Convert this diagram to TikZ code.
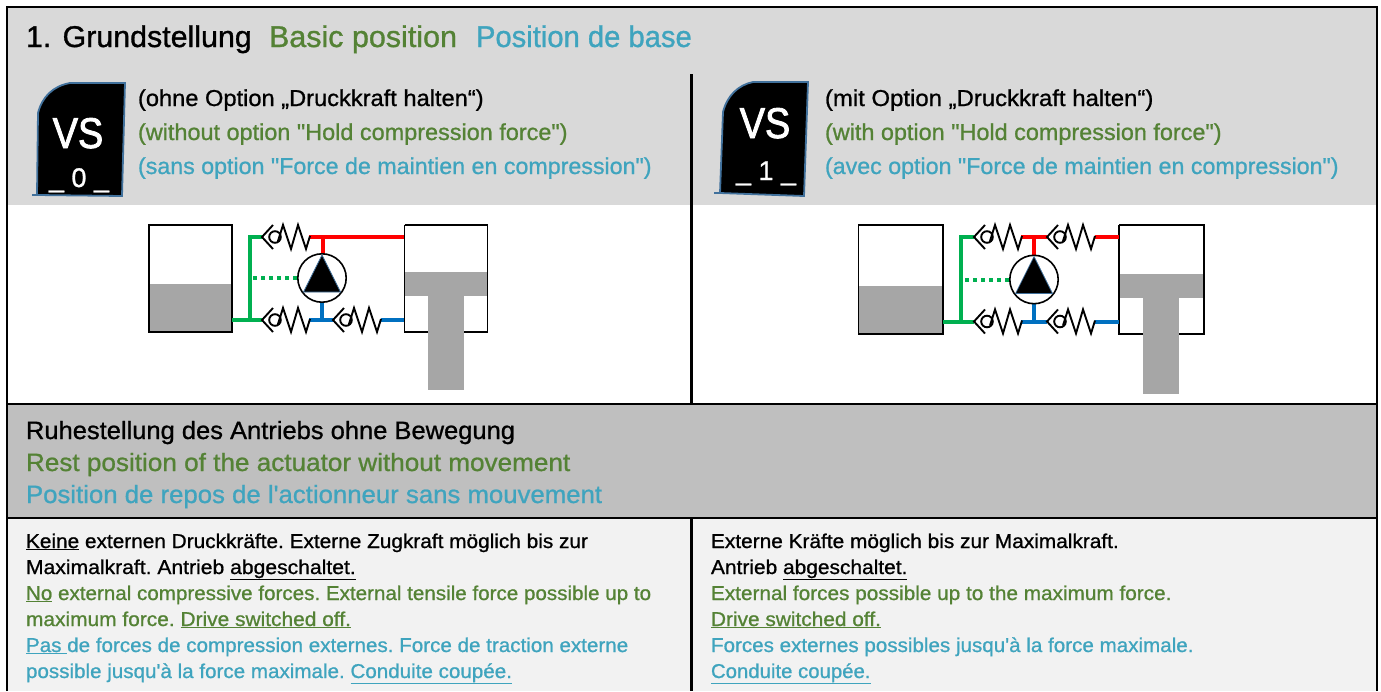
\documentclass[tikz,border=0pt]{standalone}
\usepackage{graphicx}
\usepackage{fontspec}
\setmainfont{Liberation Sans}[FakeBold=0.9,FakeStretch=1.01,Ligatures=TeXOff]
\newfontfamily\bodyfont{Liberation Sans}[FakeBold=0.9,FakeStretch=1.03,Ligatures=TeXOff]
\newfontfamily\midfont{Liberation Sans}[FakeBold=0.9,FakeStretch=1.02,Ligatures=TeXOff]
\newfontfamily\titlefont{Liberation Sans}[FakeBold=1.0,FakeStretch=1.0,Ligatures=TeXOff]
\newfontfamily\badgefont{Liberation Sans}[FakeBold=2,FakeStretch=0.88,Ligatures=TeXOff]
\newfontfamily\numfont{Liberation Sans}[FakeBold=1,Ligatures=TeXOff]
\definecolor{gTxt}{RGB}{84,130,53}
\definecolor{bTxt}{RGB}{63,164,190}
\definecolor{hdGray}{RGB}{217,217,217}
\definecolor{midGray}{RGB}{191,191,191}
\definecolor{lightGray}{RGB}{242,242,242}
\definecolor{fillGray}{RGB}{166,166,166}
\definecolor{pipeG}{RGB}{0,176,80}
\definecolor{pipeB}{RGB}{0,112,192}
\definecolor{edgeB}{RGB}{65,113,156}
\tikzset{
 txt/.style={anchor=base west,inner sep=0,outer sep=0,font=\frenchspacing\fontsize{23}{23}\selectfont},
 body/.style={anchor=base west,inner sep=0,outer sep=0,font=\frenchspacing\bodyfont\fontsize{20}{20}\selectfont},
 title/.style={anchor=base west,inner sep=0,outer sep=0,font=\titlefont\fontsize{30}{30}\selectfont},
 mid/.style={anchor=base west,inner sep=0,outer sep=0,font=\midfont\fontsize{25}{25}\selectfont},
 frameline/.style={draw=black,line width=2.6pt},
 boxln/.style={draw=black,line width=1.9pt},
 pipe/.style={line width=4pt},
 sym/.style={draw=black,line width=1.9pt},
 badge/.style={draw=edgeB,line width=1.8pt,fill=black},
 vstext/.style={anchor=base,inner sep=0,text=white,font=\badgefont\fontsize{43}{43}\selectfont},
 numtext/.style={anchor=base,inner sep=0,text=white,font=\numfont\fontsize{27}{27}\selectfont},
}
\newcommand{\ul}[1]{\underline{#1}}
\newcommand{\sx}[2]{\scalebox{#1}[1]{#2}}
\newcommand{\valve}[2]{%
 \begin{scope}[shift={(#1,#2)}]
  \draw[sym] (11,-12) -- (0,0) -- (11,12);
  \draw[sym] (13,0) circle (5.8);
  \draw[sym] (16,4) -- (21,-12) -- (29,12) -- (36,-12) -- (44,12) -- (48,-1);
 \end{scope}}
\newcommand{\pumpsym}[2]{%
 \begin{scope}[shift={(#1,#2)}]
  \draw[draw=black,line width=1.6pt,fill=white] (0,0) circle (24.2);
  \fill[black] (0,-23) -- (18.5,14) -- (-18.5,14) -- cycle;
  \draw[edgeB,line width=.7pt] (0,-23) -- (18.5,14) -- (-18.5,14) -- cycle;
 \end{scope}}
\begin{document}
\begin{tikzpicture}[x=1pt,y=-1pt]
\useasboundingbox (0,0) rectangle (1381,691);
\fill[white] (0,0) rectangle (1381,691);
\fill[hdGray] (7,7) rectangle (1377,205);
\fill[midGray] (7,404) rectangle (1377,518);
\fill[lightGray] (7,518) rectangle (1377,691);
% frame lines
\draw[frameline] (7,691) -- (7,7) -- (1377,7) -- (1377,691);
\draw[frameline] (7,404) -- (1377,404);
\draw[frameline] (7,518) -- (1377,518);
\draw[frameline] (691.5,74) -- (691.5,404);
\draw[frameline] (691.5,518) -- (691.5,691);
% heading
\node[title] (t1) at (26,47) {\sx{1.013}{1. Grundstellung}};
\node[title,text=gTxt] (t2) at (269,47) {\sx{1.016}{Basic position}};
\node[title,text=bTxt] (t3) at (476,47) {\sx{0.973}{Position de base}};
% badges
\draw[badge] (37,195) -- (38,113) .. controls (42,97) and (53,86) .. (70,83) -- (125,83) -- (122,196) -- cycle;
\draw[edgeB,line width=1.8pt] (32,195) -- (38,195);
\node[vstext] (vs0) at (78,148) {VS};
\node[numtext] (n0) at (79,187) {\_ 0 \_};
\draw[badge] (720,193) -- (723,112) .. controls (727,96) and (738,85) .. (753,82) -- (808,82) -- (804,196) -- cycle;
\draw[edgeB,line width=1.8pt] (714,193) -- (721,193);
\node[vstext] (vs1) at (765,138) {VS};
\node[numtext] (n1) at (766,180) {\_ 1 \_};
% options
\node[txt] (a1) at (138,106) {\sx{1.018}{(ohne Option „Druckkraft halten“)}};
\node[txt,text=gTxt] (a2) at (138,140) {\sx{1.009}{(without option "Hold compression force")}};
\node[txt,text=bTxt] (a3) at (138,174) {(sans option "Force de maintien en compression")};
\node[txt] (b1) at (825,106) {\sx{1.03}{(mit Option „Druckkraft halten“)}};
\node[txt,text=gTxt] (b2) at (825,140) {\sx{1.008}{(with option "Hold compression force")}};
\node[txt,text=bTxt] (b3) at (825,174) {(avec option "Force de maintien en compression")};
% left scheme
\fill[fillGray] (149,284) rectangle (232,331);
\draw[boxln] (149,225) rectangle (232,332);
\fill[fillGray] (405,272) rectangle (487,296);
\fill[fillGray] (428,296) rectangle (464,390);
\draw[boxln] (404.5,225) -- (487.5,225) -- (487.5,332) -- (464,332);
\draw[boxln] (428,332) -- (404.5,332) -- (404.5,225);
\draw[pipeG,pipe] (232,320) -- (263,320);
\draw[pipeG,pipe] (250,320) -- (250,237) -- (263,237);
\draw[pipeG,pipe,dash pattern=on 4pt off 4pt] (253,278) -- (298,278);
\draw[red,pipe] (309,237) -- (404,237);
\draw[red,pipe] (322.5,237) -- (322.5,256);
\draw[pipeB,pipe] (322,302) -- (322,320);
\draw[pipeB,pipe] (309,320) -- (334,320);
\draw[pipeB,pipe] (381,320) -- (404,320);
\valve{262}{237}
\valve{262}{320}
\valve{333}{320}
\pumpsym{322}{278}
% right scheme
\fill[fillGray] (858,286) rectangle (943,333);
\draw[boxln] (858.5,225) rectangle (943,334);
\fill[fillGray] (1120,274) rectangle (1203,298);
\fill[fillGray] (1143,298) rectangle (1179,394);
\draw[boxln] (1119,225) -- (1204,225) -- (1204,334) -- (1179,334);
\draw[boxln] (1143,334) -- (1119,334) -- (1119,225);
\draw[pipeG,pipe] (943,321.5) -- (974,321.5);
\draw[pipeG,pipe] (961,321.5) -- (961,237) -- (974,237);
\draw[pipeG,pipe,dash pattern=on 4pt off 4pt] (965,279.5) -- (1010,279.5);
\draw[red,pipe] (1021,237) -- (1047,237);
\draw[red,pipe] (1034,237) -- (1034,256);
\draw[red,pipe] (1095,237) -- (1119,237);
\draw[pipeB,pipe] (1034,304) -- (1034,321.5);
\draw[pipeB,pipe] (1021,321.5) -- (1047,321.5);
\draw[pipeB,pipe] (1095,321.5) -- (1119,321.5);
\valve{974}{237}
\valve{974}{321.5}
\valve{1047}{237}
\valve{1047}{321.5}
\pumpsym{1034}{279.5}
% middle
\node[mid] (m1) at (26,439) {Ruhestellung des Antriebs ohne Bewegung};
\node[mid,text=gTxt] (m2) at (26,471) {\sx{1.024}{Rest position of the actuator without movement}};
\node[mid,text=bTxt] (m3) at (26,503) {\sx{1.01}{Position de repos de l'actionneur sans mouvement}};
% left body
\node[body] (l1) at (26,548) {\sx{1.01}{\ul{Keine} externen Druckkräfte. Externe Zugkraft möglich bis zur}};
\node[body] (l2) at (26,574) {\sx{1.025}{Maximalkraft. Antrieb \ul{abgeschaltet.}}};
\node[body,text=gTxt] (l3) at (26,600) {{\ul{No} external compressive forces. External tensile force possible up to}};
\node[body,text=gTxt] (l4) at (26,626) {\sx{1.015}{maximum force. \ul{Drive switched off.}}};
\node[body,text=bTxt] (l5) at (26,652) {\ul{Pas }de forces de compression externes. Force de traction externe};
\node[body,text=bTxt] (l6) at (26,678) {possible jusqu'à la force maximale. \ul{Conduite coupée.}};
% right body
\node[body] (r1) at (711,548) {\sx{1.012}{Externe Kräfte möglich bis zur Maximalkraft.}};
\node[body] (r2) at (711,574) {\sx{1.015}{Antrieb \ul{abgeschaltet.}}};
\node[body,text=gTxt] (r3) at (711,600) {\sx{1.008}{External forces possible up to the maximum force.}};
\node[body,text=gTxt] (r4) at (711,626) {\sx{1.012}{\ul{Drive switched off.}}};
\node[body,text=bTxt] (r5) at (711,652) {Forces externes possibles jusqu'à la force maximale.};
\node[body,text=bTxt] (r6) at (711,678) {\sx{0.988}{\ul{Conduite coupée.}}};
\end{tikzpicture}
\end{document}
